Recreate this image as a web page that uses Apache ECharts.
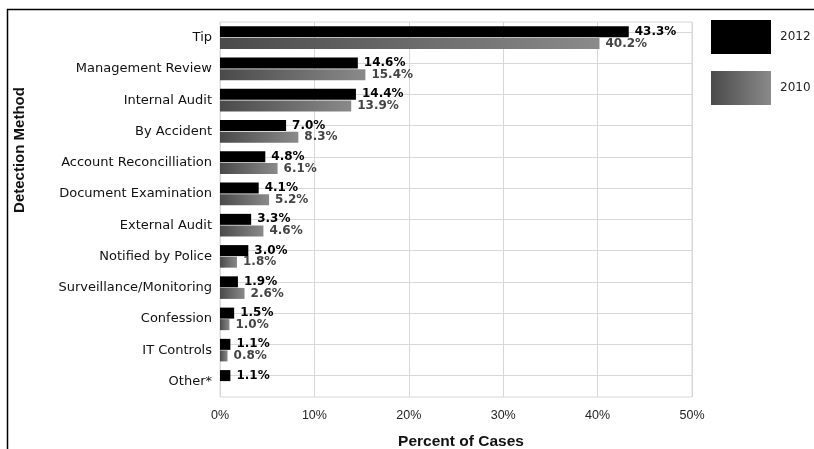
<!DOCTYPE html>
<html>
<head>
<meta charset="utf-8">
<script src="https://cdn.jsdelivr.net/npm/echarts@6/dist/echarts.min.js"></script>
<style>
  html, body { margin: 0; padding: 0; background: #fff; }
  #chart { width: 814px; height: 449px; }
</style>
</head>
<body>
<div id="chart"></div>
<script>
// detection methods, top to bottom
var categories = ['Tip', 'Management Review', 'Internal Audit', 'By Accident', 'Account Reconcilliation',
  'Document Examination', 'External Audit', 'Notified by Police', 'Surveillance/Monitoring',
  'Confession', 'IT Controls', 'Other*'];
var values2012 = [43.3, 14.6, 14.4, 7.0, 4.8, 4.1, 3.3, 3.0, 1.9, 1.5, 1.1, 1.1];
var values2010 = [40.2, 15.4, 13.9, 8.3, 6.1, 5.2, 4.6, 1.8, 2.6, 1.0, 0.8, null];
var xTicks = [0, 10, 20, 30, 40, 50];

var chart = echarts.init(document.getElementById('chart'));
var font = '"DejaVu Sans", Arial, sans-serif';
var fontB = '"Liberation Sans", Arial, sans-serif';

var option = {
  animation: false,
  textStyle: { fontFamily: font },
  graphic: [
    // frame of the figure (top and left only)
    { type: 'line', shape: { x1: 7, y1: 9.5, x2: 814, y2: 9.5 }, style: { stroke: '#000', lineWidth: 1.5 } },
    { type: 'line', shape: { x1: 7.5, y1: 9, x2: 7.5, y2: 449 }, style: { stroke: '#000', lineWidth: 1.5 } },
    // y axis title, sits higher than the plot middle
    {
      type: 'text', x: 20, y: 150, rotation: Math.PI / 2,
      style: {
        text: 'Detection Method', align: 'center', verticalAlign: 'middle',
        font: 'bold 15px ' + fontB, fill: '#111'
      }
    }
  ],
  legend: {
    orient: 'vertical',
    left: 711,
    top: 20,
    padding: 0,
    icon: 'rect',
    itemWidth: 60,
    itemHeight: 34,
    itemGap: 17,
    data: ['2012', '2010'],
    textStyle: { fontSize: 12, color: '#222', padding: [0, 0, 0, 4] }
  },
  grid: {
    left: 220, right: 122, top: 22, bottom: 52,
    outerBoundsMode: 'none',
    show: true, borderColor: '#d8d8d8', borderWidth: 1
  },
  xAxis: {
    type: 'value',
    min: 0,
    max: 50,
    interval: 10,
    name: 'Percent of Cases',
    nameLocation: 'middle',
    nameGap: 37,
    nameTextStyle: { fontSize: 15.5, fontWeight: 'bold', color: '#111', fontFamily: fontB, padding: [0, 0, 0, 10] },
    axisLine: { show: false },
    axisTick: { show: false },
    axisLabel: {
      margin: 12, fontSize: 12.5, color: '#222', fontFamily: fontB,
      formatter: function (v) { return xTicks.indexOf(v) >= 0 ? v + '%' : ''; }
    },
    splitLine: { lineStyle: { color: '#d8d8d8' } }
  },
  yAxis: {
    type: 'category',
    inverse: true,
    data: categories,
    axisLine: { show: false },
    axisTick: { show: false },
    splitLine: { show: false },
    axisLabel: { margin: 8, fontSize: 13, color: '#111' }
  },
  series: [
    {
      name: '2012',
      type: 'bar',
      data: values2012,
      barWidth: 11,
      barGap: '5%',
      itemStyle: { color: '#000' },
      label: {
        show: true, position: 'right', distance: 6,
        fontSize: 12, fontWeight: 'bold', color: '#000',
        formatter: function (p) { return p.value.toFixed(1) + '%'; }
      },
      markLine: {
        silent: true,
        symbol: 'none',
        label: { show: false },
        lineStyle: { color: '#d8d8d8', type: 'solid', width: 1 },
        data: categories.map(function (c) { return { yAxis: c }; }),
        z: 1
      },
      z: 3
    },
    {
      name: '2010',
      type: 'bar',
      data: values2010,
      barWidth: 11,
      itemStyle: {
        color: {
          type: 'linear', x: 0, y: 0, x2: 1, y2: 0,
          colorStops: [{ offset: 0, color: '#4a4a4a' }, { offset: 1, color: '#8a8a8a' }]
        }
      },
      label: {
        show: true, position: 'right', distance: 6,
        fontSize: 12, fontWeight: 'bold', color: '#444',
        formatter: function (p) { return p.value == null ? '' : p.value.toFixed(1) + '%'; }
      },
      z: 3
    }
  ]
};
chart.setOption(option);
</script>
</body>
</html>
